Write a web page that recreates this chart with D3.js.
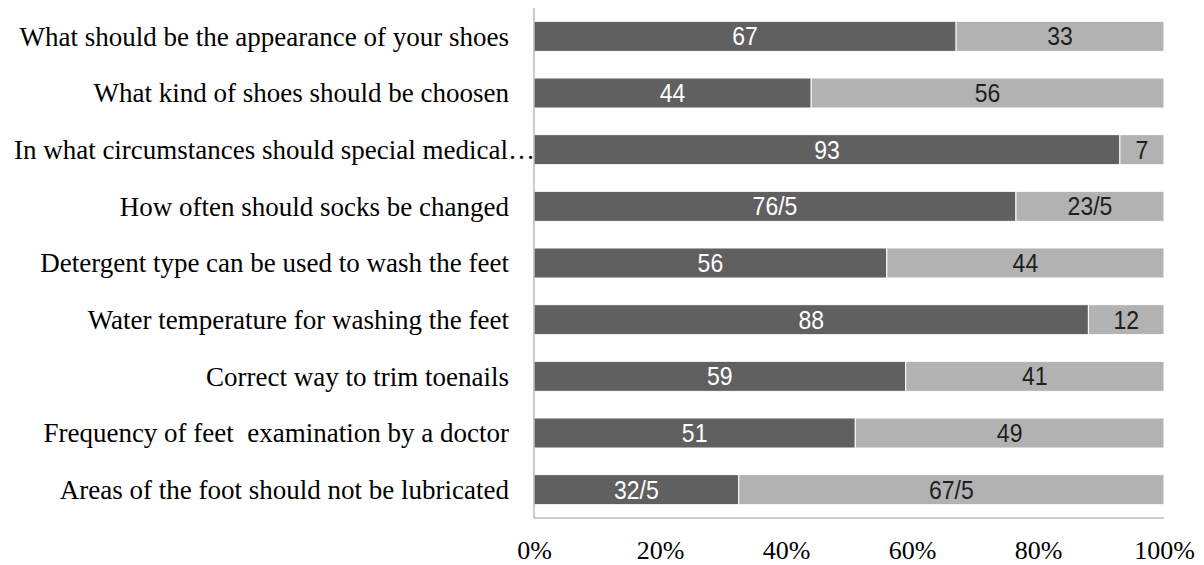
<!DOCTYPE html>
<html><head><meta charset="utf-8">
<script src="https://cdn.jsdelivr.net/npm/d3@7"></script>
<style>
html,body{margin:0;padding:0;background:#fff;}
svg{display:block;}
</style></head>
<body>
<svg id="chart" width="1204" height="565"></svg>
<script>
const categories = [
  "What should be the appearance of your shoes",
  "What kind of shoes should be choosen",
  "In what circumstances should special medical…",
  "How often should socks be changed",
  "Detergent type can be used to wash the feet",
  "Water temperature for washing the feet",
  "Correct way to trim toenails",
  "Frequency of feet  examination by a doctor",
  "Areas of the foot should not be lubricated"
];
const seriesA = [67, 44, 93, 76.5, 56, 88, 59, 51, 32.5];
const seriesB = [33, 56, 7, 23.5, 44, 12, 41, 49, 67.5];
const tickValues = [0, 0.2, 0.4, 0.6, 0.8, 1.0];

(function () {
const svg = d3.select("#chart");
const mLeft = 534, mRight = 1164, mTop = 8, mBottom = 518;

const x = d3.scaleLinear().domain([0, 1]).range([mLeft, mRight]);
const y = d3.scaleBand().domain(categories).range([mTop, mBottom]).paddingInner(0.47).paddingOuter(0.235);

const rows = categories.map((c, i) => ({c, a: seriesA[i], b: seriesB[i]}));
const fmt = v => String(v).replace(".", "/");

const g = svg.append("g");
rows.forEach(r => {
  const tot = r.a + r.b;
  const segs = [
    {x0: 0, x1: r.a / tot, v: r.a, fill: "#606060", tc: "#ffffff"},
    {x0: r.a / tot, x1: 1, v: r.b, fill: "#b2b2b2", tc: "#1e1e1e"}
  ];
  segs.forEach(s => {
    g.append("rect")
      .attr("x", x(s.x0)).attr("y", y(r.c))
      .attr("width", x(s.x1) - x(s.x0)).attr("height", y.bandwidth())
      .attr("fill", s.fill).attr("stroke", "#ffffff").attr("stroke-width", 1);
    const cx = (x(s.x0) + x(s.x1)) / 2;
    g.append("text")
      .attr("transform", `translate(${cx},${y(r.c) + y.bandwidth() / 2}) scale(0.92,1)`)
      .attr("dy", "0.36em").attr("text-anchor", "middle")
      .attr("fill", s.tc)
      .style("font-family", "'Liberation Sans',Arial,sans-serif")
      .style("font-size", "25px")
      .text(fmt(s.v));
  });
});

svg.append("line").attr("x1", mLeft).attr("x2", mLeft).attr("y1", mTop).attr("y2", mBottom)
  .attr("stroke", "#9a9a9a").attr("stroke-width", 1);
svg.append("line").attr("x1", mLeft).attr("x2", mRight).attr("y1", mBottom).attr("y2", mBottom)
  .attr("stroke", "#9a9a9a").attr("stroke-width", 1);

svg.append("g").selectAll("text").data(categories).join("text")
  .attr("x", d => d.endsWith("…") ? mLeft + 1 : mLeft - 25)
  .attr("y", d => y(d) + y.bandwidth() / 2)
  .attr("dy", "0.35em").attr("text-anchor", "end")
  .attr("fill", "#000")
  .style("white-space", "pre")
  .style("font-family", "'Liberation Serif','Times New Roman',serif")
  .style("font-size", "27px")
  .text(d => d);

const xAxis = d3.axisBottom(x).tickValues(tickValues).tickFormat(d3.format(".0%")).tickSize(0).tickPadding(0);
const ax = svg.append("g").attr("transform", `translate(0,${mBottom})`).call(xAxis);
ax.select(".domain").remove();
ax.selectAll("text")
  .attr("dy", null).attr("y", 41)
  .attr("fill", "#000")
  .style("font-family", "'Liberation Serif','Times New Roman',serif")
  .style("font-size", "26px");
})();
</script>
</body></html>
